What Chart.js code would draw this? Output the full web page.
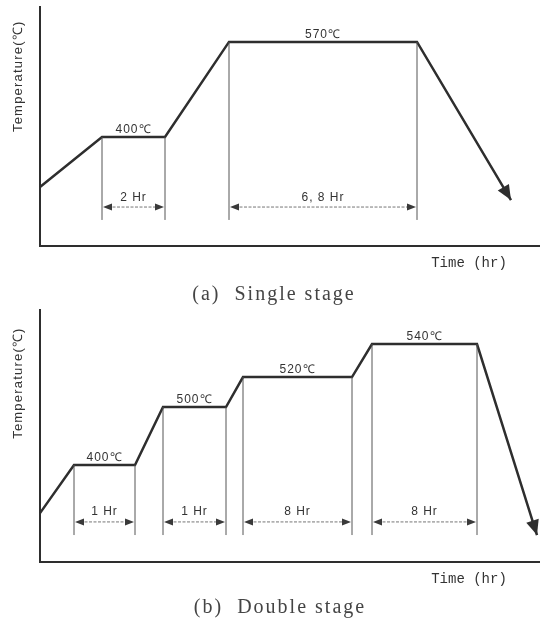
<!DOCTYPE html>
<html>
<head>
<meta charset="utf-8">
<script src="https://cdn.jsdelivr.net/npm/chart.js@4.4.0/dist/chart.umd.min.js"></script>
<style>
  html, body { margin: 0; padding: 0; background: #fff; }
  canvas { display: block; }
</style>
</head>
<body>
<canvas id="singleChart" width="540" height="305"></canvas>
<canvas id="doubleChart" width="540" height="314"></canvas>
<script>
// ==== Data ====
// schematic diagram: time on a 0-100 axis, temperature as a 0-100 level
const singleTime = [0, 12.4, 25, 37.8, 75.4, 94.2];
const singleLevel = [24.7, 45.6, 45.6, 85.4, 85.4, 19.2];
const singleHoldStart = [1, 3]; // first point of each soak
const singleTemps = ["400℃", "570℃"];
const singleHours = ["2 Hr", "6, 8 Hr"];

const doubleTime = [0, 6.8, 19, 24.6, 37.2, 40.6, 62.4, 66.4, 87.4, 99.4];
const doubleLevel = [19.4, 38.5, 38.5, 61.5, 61.5, 73.4, 73.4, 86.5, 86.5, 10.7];
const doubleHoldStart = [1, 3, 5, 7];
const doubleTemps = ["400℃", "500℃", "520℃", "540℃"];
const doubleHours = ["1 Hr", "1 Hr", "8 Hr", "8 Hr"];

const INK = "#2e2e2e";
const SANS = '"Liberation Sans", Arial, sans-serif';

// ==== Helpers ====
function drawHead(ctx, fromX, fromY, toX, toY, len, half, color) {
  const ang = Math.atan2(toY - fromY, toX - fromX);
  ctx.save();
  ctx.translate(toX, toY);
  ctx.rotate(ang);
  ctx.fillStyle = color;
  ctx.beginPath();
  ctx.moveTo(0, 0);
  ctx.lineTo(-len, -half);
  ctx.lineTo(-len, half);
  ctx.closePath();
  ctx.fill();
  ctx.restore();
}

// ==== Annotation plugin (soak guides, dimensions, labels) ====
const schematic = {
  id: "schematic",
  afterDatasetsDraw(chart, args, opts) {
    const { ctx, chartArea, scales: { x, y } } = chart;
    const px = i => x.getPixelForValue(opts.time[i]);
    const py = i => y.getPixelForValue(opts.level[i]);
    const n = opts.time.length;
    ctx.save();

    // cooling arrow
    drawHead(ctx, px(n - 2), py(n - 2), px(n - 1), py(n - 1), 15, 6.5, INK);

    const guideY = y.getPixelForValue(opts.guideLevel);
    const dimY = y.getPixelForValue(opts.dimLevel);
    const textY = y.getPixelForValue(opts.textLevel);

    opts.holdStart.forEach((s, k) => {
      const x0 = px(s), x1 = px(s + 1), yTop = py(s);

      ctx.strokeStyle = "#555";
      ctx.lineWidth = 1;
      ctx.setLineDash([]);
      [x0, x1].forEach(gx => {
        ctx.beginPath();
        ctx.moveTo(gx, yTop);
        ctx.lineTo(gx, guideY);
        ctx.stroke();
      });

      ctx.strokeStyle = "#777";
      ctx.setLineDash([3, 1.5]);
      ctx.beginPath();
      ctx.moveTo(x0 + 6, dimY);
      ctx.lineTo(x1 - 6, dimY);
      ctx.stroke();
      ctx.setLineDash([]);
      drawHead(ctx, x1 - 9, dimY, x1 - 1, dimY, 9, 3.5, "#3a3a3a");
      drawHead(ctx, x0 + 9, dimY, x0 + 1, dimY, 9, 3.5, "#3a3a3a");

      ctx.fillStyle = "#333";
      ctx.font = "12px " + SANS;
      ctx.letterSpacing = "1px";
      ctx.textAlign = "center";
      ctx.textBaseline = "middle";
      ctx.fillText(opts.hours[k], (x0 + x1) / 2, textY);
      ctx.textBaseline = "alphabetic";
      ctx.fillText(opts.temps[k], (x0 + x1) / 2, yTop - 4);
    });

    // axis titles
    ctx.save();
    ctx.translate(18, chartArea.top + 0.29 * (chartArea.bottom - chartArea.top));
    ctx.rotate(-Math.PI / 2);
    ctx.font = "13px " + SANS;
    ctx.letterSpacing = "1.2px";
    ctx.textAlign = "center";
    ctx.textBaseline = "middle";
    ctx.fillStyle = "#333";
    ctx.fillText("Temperature(℃)", 0, 0);
    ctx.restore();

    ctx.font = '14px "Liberation Mono", "DejaVu Sans Mono", monospace';
    ctx.letterSpacing = "0px";
    ctx.textAlign = "center";
    ctx.textBaseline = "middle";
    ctx.fillStyle = "#333";
    ctx.fillText("Time (hr)", 469, chartArea.bottom + 17);

    // caption
    ctx.font = '20px "Liberation Serif", "Times New Roman", serif';
    ctx.letterSpacing = "2px";
    ctx.fillStyle = "#444";
    ctx.fillText(opts.caption, opts.captionX, opts.captionY);
    ctx.letterSpacing = "0px";
    ctx.restore();
  }
};

function makeChart(canvasId, time, level, pad, extra) {
  return new Chart(document.getElementById(canvasId), {
    type: "line",
    data: {
      datasets: [{
        data: time.map((t, i) => ({ x: t, y: level[i] })),
        borderColor: INK,
        borderWidth: 2.5,
        pointRadius: 0,
        tension: 0,
        fill: false,
        clip: false
      }]
    },
    options: {
      responsive: false,
      animation: false,
      layout: { padding: pad },
      scales: {
        x: {
          type: "linear", min: 0, max: 100,
          ticks: { display: false },
          grid: { display: false, drawTicks: false },
          border: { color: INK, width: 2 }
        },
        y: {
          type: "linear", min: 0, max: 100,
          ticks: { display: false },
          grid: { display: false, drawTicks: false },
          border: { color: INK, width: 2 }
        }
      },
      plugins: {
        legend: { display: false },
        tooltip: { enabled: false },
        schematic: Object.assign({ time, level }, extra)
      }
    },
    plugins: [schematic]
  });
}

// ==== Charts ====
makeChart("singleChart", singleTime, singleLevel,
  { left: 40, right: 0, top: 7, bottom: 59 },
  {
    holdStart: singleHoldStart, temps: singleTemps, hours: singleHours,
    guideLevel: 10.9, dimLevel: 16.3, textLevel: 20.2,
    caption: "(a)  Single stage", captionX: 274, captionY: 295
  });

makeChart("doubleChart", doubleTime, doubleLevel,
  { left: 40, right: 0, top: 5, bottom: 57 },
  {
    holdStart: doubleHoldStart, temps: doubleTemps, hours: doubleHours,
    guideLevel: 10.7, dimLevel: 15.9, textLevel: 19.8,
    caption: "(b)  Double stage", captionX: 280, captionY: 303
  });
</script>
</body>
</html>
